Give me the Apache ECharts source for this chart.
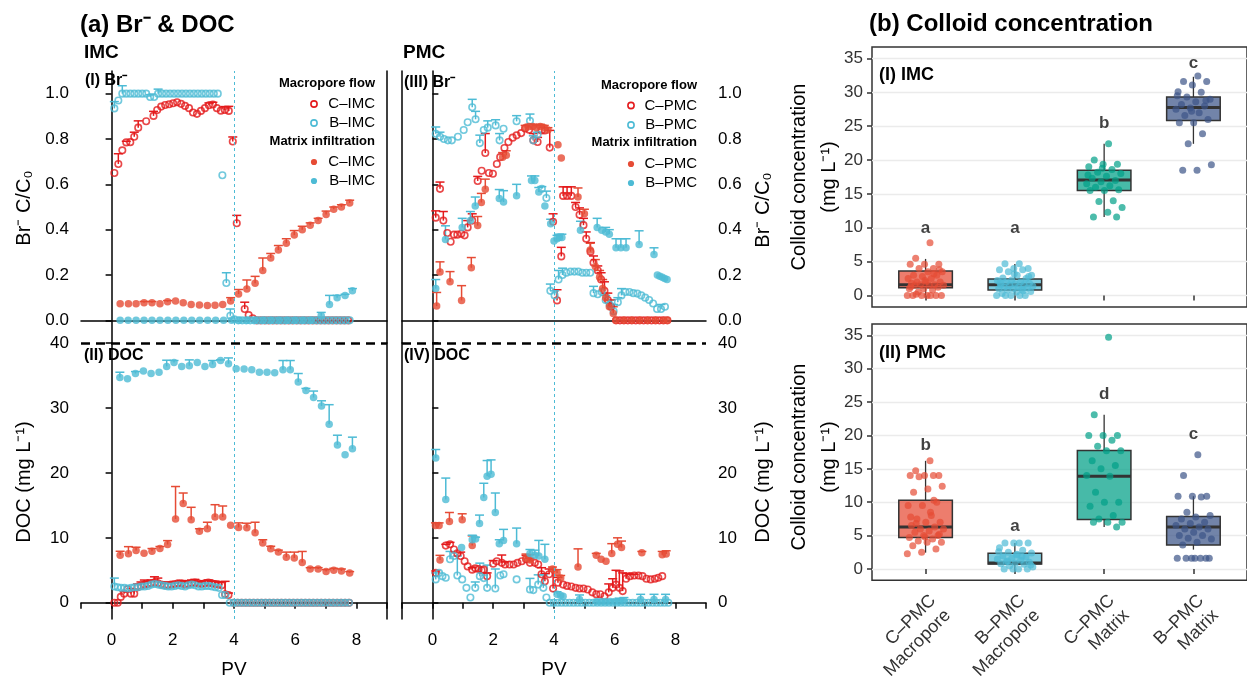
<!DOCTYPE html>
<html><head><meta charset="utf-8">
<script src="https://cdn.jsdelivr.net/npm/echarts@6/dist/echarts.min.js"></script>
<style>html,body{margin:0;padding:0;background:#fff}#c{width:1247px;height:683px}</style>
</head><body><div id="c"></div><script>
// ---------- tick labels / categories ----------
const pvTicks = [-1,0,1,2,3,4,5,6,7,8,9];
const pvLabels = [0,2,4,6,8];
const brTicks = [0,0.2,0.4,0.6,0.8,1.0];
const docTicks = [0,10,20,30,40];
const colloidTicks = [0,5,10,15,20,25,30,35];
const colloidGroups = ['C–PMC\nMacropore','B–PMC\nMacropore','C–PMC\nMatrix','B–PMC\nMatrix'];

// ---------- panel (a) data: [PV, value, upper error] ----------
const cImcMacroBr = [[0.09,0.65,0],[0.22,0.69,0.045],[0.35,0.75,0],[0.48,0.785,0.005],[0.61,0.786,0],[0.74,0.81,0.02],[0.87,0.85,0.03],[1.13,0.878,0],[1.37,0.902,0.02],[1.49,0.928,0],[1.62,0.943,0],[1.75,0.95,0],[1.88,0.953,0],[2.01,0.958,0],[2.14,0.962,0],[2.27,0.955,0],[2.40,0.946,0],[2.53,0.936,0],[2.66,0.917,0],[2.79,0.911,0],[2.92,0.924,0],[3.05,0.936,0],[3.18,0.949,0.01],[3.31,0.952,0.01],[3.44,0.936,0],[3.57,0.925,0],[3.70,0.928,0.015],[3.83,0.924,0.02],[3.96,0.789,0.02],[4.09,0.428,0.035],[4.35,0.05,0.03],[4.48,0.023,0],[4.61,0.009,0],[4.74,0,0],[4.87,0,0],[5.00,0,0],[5.13,0,0],[5.26,0,0],[5.39,0,0],[5.52,0,0],[5.65,0,0],[5.78,0,0],[5.91,0,0],[6.04,0,0],[6.17,0,0],[6.30,0,0],[6.43,0,0],[6.56,0,0],[6.69,0,0],[6.82,0,0],[6.95,0,0],[7.08,0,0],[7.21,0,0],[7.34,0,0],[7.47,0,0],[7.60,0,0],[7.73,0,0]];
const bImcMacroBr = [[0.09,0.935,0.03],[0.22,0.97,0],[0.35,1,0.035],[0.48,1,0],[0.61,1,0],[0.74,1,0],[0.87,1,0],[1.00,1,0],[1.13,1,0],[1.26,0.985,0.01],[1.39,0.985,0],[1.52,1,0.02],[1.65,1,0],[1.78,1,0],[1.91,1,0],[2.04,1,0],[2.17,1,0],[2.30,1,0],[2.43,1,0],[2.56,1,0],[2.69,1,0],[2.82,1,0],[2.95,1,0],[3.08,1,0],[3.21,1,0],[3.34,1,0],[3.47,1,0],[3.62,0.64,0],[3.75,0.165,0.045],[3.88,0.02,0.03],[4.01,0.005,0],[4.14,0,0],[4.27,0,0],[4.40,0,0],[4.53,0,0],[4.66,0,0],[4.79,0,0],[4.92,0,0],[5.05,0,0],[5.18,0,0],[5.31,0,0],[5.44,0,0],[5.57,0,0],[5.70,0,0],[5.83,0,0],[5.96,0,0],[6.09,0,0],[6.22,0,0],[6.35,0,0],[6.48,0,0],[6.61,0,0],[6.74,0,0],[6.87,0,0],[7.00,0,0],[7.13,0,0],[7.26,0,0],[7.39,0,0],[7.52,0,0],[7.65,0,0],[7.78,0,0]];
const cImcMatrixBr = [[0.28,0.073,0],[0.55,0.073,0],[0.80,0.073,0],[1.06,0.078,0.005],[1.32,0.078,0.005],[1.58,0.073,0],[1.83,0.082,0.005],[2.09,0.085,0],[2.34,0.078,0],[2.60,0.070,0],[2.87,0.068,0],[3.13,0.065,0],[3.38,0.067,0],[3.63,0.070,0],[3.89,0.085,0.015],[4.15,0.116,0.02],[4.42,0.138,0.04],[4.69,0.164,0.03],[4.94,0.22,0.055],[5.20,0.275,0.02],[5.45,0.31,0.02],[5.71,0.34,0.02],[5.97,0.376,0.02],[6.23,0.40,0.015],[6.49,0.42,0.01],[6.75,0.44,0.01],[7.01,0.467,0.015],[7.26,0.49,0.01],[7.51,0.50,0.01],[7.78,0.518,0.012]];
const bImcMatrixBr = [[0.28,0,0],[0.54,0,0],[0.80,0,0],[1.06,0,0],[1.32,0,0],[1.58,0,0],[1.84,0,0],[2.10,0,0],[2.36,0,0],[2.62,0,0],[2.88,0,0],[3.14,0,0],[3.40,0,0],[3.66,0,0],[3.92,0,0],[4.18,0,0],[4.44,0,0],[4.70,0,0],[4.96,0,0],[5.22,0,0],[5.48,0,0],[5.74,0,0],[6.00,0,0],[6.26,0,0],[6.52,0,0],[6.85,0.02,0.015],[7.12,0.07,0.04],[7.37,0.10,0.01],[7.63,0.11,0.005],[7.87,0.13,0.01]];

const cImcMacroDoc = [[0.09,0,0],[0.20,0,0],[0.30,0.9,0],[0.41,1.4,0.3],[0.52,2.1,0],[0.63,1.4,0.8],[0.74,1.4,0.7],[0.85,2.4,0.5],[0.96,2.6,0.6],[1.07,2.8,0.7],[1.18,2.9,0.4],[1.29,3.0,0.5],[1.40,3.1,0.9],[1.51,3.0,0.8],[1.62,2.8,0.4],[1.73,2.7,0.3],[1.84,2.7,0.5],[1.95,2.8,0.3],[2.06,2.9,0.2],[2.17,3.0,0.2],[2.28,3.0,0.4],[2.39,2.8,0.6],[2.50,2.9,0.5],[2.61,3.0,0.5],[2.72,3.1,0.5],[2.83,3.0,0.3],[2.94,2.9,0.3],[3.05,3.0,0.4],[3.16,3.1,0.4],[3.27,3.0,0.3],[3.38,2.9,0.4],[3.49,2.8,0.4],[3.60,2.7,0.5],[3.71,1.3,2.0],[3.82,1.2,0.3],[3.99,0,0],[4.12,0,0],[4.25,0,0],[4.38,0,0],[4.51,0,0],[4.64,0,0],[4.77,0,0],[4.90,0,0],[5.03,0,0],[5.16,0,0],[5.29,0,0],[5.42,0,0],[5.55,0,0],[5.68,0,0],[5.81,0,0],[5.94,0,0],[6.07,0,0],[6.20,0,0],[6.33,0,0],[6.46,0,0],[6.59,0,0],[6.72,0,0],[6.85,0,0],[6.98,0,0],[7.11,0,0],[7.24,0,0],[7.37,0,0],[7.50,0,0],[7.63,0,0],[7.76,0,0]];
const bImcMacroDoc = [[0.09,2.5,1.3],[0.20,2.4,0],[0.31,2.3,0],[0.42,2.3,0],[0.53,2.2,0],[0.64,2.3,0],[0.75,2.4,0],[0.86,2.4,0],[0.97,2.5,0],[1.08,2.5,0],[1.19,2.6,0],[1.30,2.8,0],[1.41,2.9,0],[1.52,2.8,0],[1.63,2.7,0],[1.74,2.6,0],[1.85,2.5,0],[1.96,2.5,0],[2.07,2.6,0],[2.18,2.7,0],[2.29,2.6,0],[2.40,2.5,0],[2.51,2.7,0],[2.62,2.8,0],[2.73,2.7,0],[2.84,2.5,0],[2.95,2.5,0],[3.06,2.6,0],[3.17,2.6,0],[3.28,2.5,0],[3.39,2.4,0],[3.50,2.3,0],[3.61,1.2,0],[3.72,1.2,0],[3.86,0,0],[3.99,0,0],[4.12,0,0],[4.25,0,0],[4.38,0,0],[4.51,0,0],[4.64,0,0],[4.77,0,0],[4.90,0,0],[5.03,0,0],[5.16,0,0],[5.29,0,0],[5.42,0,0],[5.55,0,0],[5.68,0,0],[5.81,0,0],[5.94,0,0],[6.07,0,0],[6.20,0,0],[6.33,0,0],[6.46,0,0],[6.59,0,0],[6.72,0,0],[6.85,0,0],[6.98,0,0],[7.11,0,0],[7.24,0,0],[7.37,0,0],[7.50,0,0],[7.63,0,0],[7.76,0,0]];
const cImcMatrixDoc = [[0.28,7.33,0.6],[0.55,7.54,1.1],[0.80,8.05,0.5],[1.06,7.64,0],[1.32,7.95,0.4],[1.58,8.36,0.3],[1.83,8.97,0.6],[2.09,12.9,5.0],[2.34,15.3,1.6],[2.60,12.8,1.9],[2.87,11.0,0.4],[3.13,11.4,1.0],[3.38,13.2,1.9],[3.63,13.2,1.7],[3.89,11.95,0],[4.15,11.6,0.7],[4.42,11.55,0.7],[4.69,10.8,1.6],[4.94,9.2,0.5],[5.20,8.3,0.4],[5.45,7.8,0.3],[5.71,7.0,0.8],[5.97,6.9,0.9],[6.23,6.2,1.7],[6.49,5.2,0.2],[6.75,5.2,0.2],[7.01,4.8,0.3],[7.26,5.0,0.3],[7.51,4.9,0.3],[7.78,4.6,0.2]];
const bImcMatrixDoc = [[0.27,34.7,0.8],[0.52,34.5,0],[0.78,35.3,0.3],[1.04,35.7,0],[1.29,35.3,0],[1.55,35.5,0],[1.80,36.4,0.95],[2.04,37.0,0.3],[2.29,36.4,0],[2.54,36.5,0.9],[2.80,37.0,0],[3.05,36.4,0],[3.30,36.7,0.6],[3.56,37.3,0.1],[3.82,36.8,0.9],[4.07,36.05,0],[4.33,36.0,0],[4.58,35.9,0],[4.83,35.5,0],[5.08,35.5,0],[5.33,35.4,0],[5.60,35.9,1.4],[5.84,35.9,1.4],[6.10,34.0,1.3],[6.35,32.7,0.3],[6.60,31.6,1.0],[6.86,30.3,0.8],[7.11,27.5,3.0],[7.38,24.3,1.5],[7.63,22.8,0],[7.87,23.7,1.8]];

const cPmcMacroBr = [[0.11,0.453,0.03],[0.25,0.58,0.03],[0.36,0.44,0.04],[0.49,0.385,0],[0.60,0.347,0],[0.71,0.378,0],[0.82,0.378,0],[0.95,0.382,0],[1.06,0.375,0],[1.16,0.41,0.03],[1.31,0.44,0.03],[1.49,0.615,0.02],[1.62,0.66,0],[1.74,0.738,0.086],[1.86,0.65,0],[1.99,0.647,0],[2.12,0.69,0],[2.23,0.72,0],[2.37,0.76,0],[2.50,0.787,0],[2.64,0.806,0],[2.77,0.816,0],[2.92,0.826,0],[3.05,0.846,0],[3.18,0.841,0],[3.32,0.794,0.03],[3.46,0.787,0.02],[3.59,0.838,0],[3.70,0.838,0],[3.86,0.762,0.076],[3.97,0.435,0.035],[4.10,0.088,0.047],[4.24,0.282,0.04],[4.30,0.549,0.04],[4.43,0.549,0.04],[4.57,0.549,0.04],[4.71,0.50,0.02],[4.84,0.466,0.03],[4.97,0.42,0.03],[5.06,0.36,0.03],[5.20,0.303,0.04],[5.30,0.254,0.03],[5.44,0.22,0.02],[5.55,0.18,0.03],[5.66,0.13,0.04],[5.77,0.09,0.03],[5.88,0.06,0.03],[6.04,0,0],[6.17,0,0],[6.30,0,0],[6.43,0,0],[6.56,0,0],[6.69,0,0],[6.82,0,0],[6.95,0,0],[7.08,0,0],[7.21,0,0],[7.34,0,0],[7.47,0,0],[7.60,0,0],[7.73,0,0]];
const bPmcMacroBr = [[0.11,0.823,0.03],[0.25,0.81,0.02],[0.38,0.80,0],[0.51,0.794,0],[0.64,0.794,0],[0.84,0.81,0],[1.03,0.84,0],[1.16,0.874,0],[1.31,0.94,0.035],[1.42,0.887,0.035],[1.56,0.782,0.035],[1.69,0.84,0],[1.82,0.85,0.03],[2.08,0.86,0.025],[2.21,0.794,0.03],[2.34,0.845,0],[2.77,0.878,0.025],[3.21,0.88,0.03],[3.32,0.794,0.02],[3.46,0.82,0.01],[3.60,0.58,0.01],[3.75,0.54,0.03],[3.88,0.13,0.03],[4.02,0.11,0.02],[4.15,0.18,0.04],[4.28,0.20,0.03],[4.41,0.21,0],[4.54,0.215,0],[4.67,0.215,0],[4.80,0.215,0],[4.93,0.21,0],[5.06,0.21,0],[5.19,0.21,0],[5.30,0.12,0.03],[5.44,0.115,0],[5.57,0.125,0],[5.70,0.09,0.02],[5.83,0.07,0.02],[5.96,0.04,0.03],[6.10,0.08,0.02],[6.22,0.11,0.03],[6.35,0.125,0],[6.48,0.125,0],[6.61,0.12,0],[6.74,0.118,0],[6.87,0.11,0],[7.00,0.10,0],[7.13,0.09,0],[7.26,0.074,0],[7.39,0.05,0],[7.52,0.05,0.02],[7.65,0.06,0]];
const cPmcMatrixBr = [[0.14,0.063,0.06],[0.25,0.213,0.045],[0.58,0.17,0.045],[0.96,0.088,0.065],[1.28,0.232,0.045],[1.49,0.418,0.04],[1.61,0.52,0.04],[1.74,0.578,0.045],[2.31,0.72,0.02],[2.43,0.728,0.02],[3.05,0.85,0.01],[3.18,0.855,0.01],[3.30,0.855,0.01],[3.42,0.85,0.01],[3.55,0.855,0.01],[3.68,0.85,0.01],[3.80,0.84,0.01],[4.13,0.775,0],[4.24,0.716,0],[4.79,0.544,0.04],[5.00,0.47,0.02],[5.19,0.31,0.03],[5.36,0.238,0.03],[5.50,0.19,0.03],[5.60,0.14,0.04],[5.70,0.10,0.02],[5.82,0.06,0.03],[5.95,0.03,0.03],[6.04,0,0],[6.30,0,0],[6.56,0,0],[6.82,0,0],[7.08,0,0],[7.34,0,0],[7.60,0,0],[7.73,0,0]];
const bPmcMatrixBr = [[0.11,0.14,0.04],[0.43,0.357,0.06],[0.98,0.41,0.04],[1.25,0.44,0.04],[1.41,0.504,0.04],[2.20,0.537,0.04],[2.34,0.522,0.05],[2.77,0.55,0.05],[3.26,0.617,0.02],[3.37,0.617,0.02],[3.50,0.566,0.02],[3.70,0.504,0],[3.89,0.426,0.02],[4.00,0.35,0],[4.10,0.36,0.015],[4.18,0.365,0.015],[4.26,0.365,0.015],[4.87,0.397,0.04],[5.42,0.41,0.04],[5.57,0.397,0],[5.70,0.39,0.02],[5.82,0.38,0.02],[6.04,0.32,0.04],[6.20,0.32,0.04],[6.37,0.32,0.04],[6.80,0.335,0.06],[7.29,0.29,0.03],[7.40,0.20,0],[7.48,0.195,0],[7.56,0.19,0],[7.64,0.185,0],[7.72,0.18,0]];

const cPmcMacroDoc = [[0.11,4.6,0.3],[0.44,8.8,0.2],[0.58,9.0,0.3],[0.71,8.2,0],[0.82,7.6,0],[0.93,7.2,0.6],[1.06,6.4,0],[1.16,5.6,0],[1.31,5.1,0.3],[1.41,5.3,0],[1.52,5.2,0],[1.62,5.0,0],[1.69,5.1,0],[1.80,4.1,0.5],[2.00,6.0,0.5],[2.12,6.4,0],[2.28,6.15,1.2],[2.39,5.9,0.4],[2.54,5.9,0],[2.67,5.9,0],[2.80,6.15,0],[2.94,6.4,0],[3.08,6.7,0.6],[3.21,6.15,0.7],[3.37,6.15,0],[3.48,5.9,0],[3.59,4.4,1.0],[3.70,3.3,1.2],[3.84,4.4,0.8],[3.97,2.2,2.9],[4.13,3.1,0.8],[4.30,2.8,0],[4.43,2.6,0],[4.57,2.5,0],[4.71,2.3,0],[4.84,2.2,0],[4.97,2.2,0],[5.11,2.05,0],[5.26,1.6,0],[5.39,1.3,0],[5.52,1.3,0],[5.66,1.0,0],[5.80,1.6,1.3],[5.93,2.3,1.4],[6.04,2.8,2.2],[6.15,2.3,2.6],[6.26,1.8,2.8],[6.37,3.7,0.8],[6.50,4.1,0.3],[6.64,4.2,0.2],[6.78,4.2,0],[6.91,4.1,0],[7.04,3.7,0],[7.18,3.6,0],[7.32,3.7,0],[7.43,3.85,0],[7.56,4.1,0]];
const bPmcMacroDoc = [[0.11,3.6,1.0],[0.22,4.6,0],[0.33,4.1,0],[0.44,3.85,0],[0.58,6.7,1.2],[0.71,7.2,0],[0.82,4.2,3.0],[0.98,3.6,0],[1.12,2.3,0],[1.25,0.8,0],[1.41,2.3,0.9],[1.56,4.1,2.0],[1.69,3.8,0],[1.80,2.3,3.5],[2.07,2.2,3.0],[2.23,4.2,0],[2.34,4.4,0],[2.77,3.6,0],[3.21,2.05,1.7],[3.32,1.95,0],[3.48,2.8,1.5],[3.65,2.3,2.0],[3.75,0.8,0],[3.86,0,0],[3.99,0,0],[4.12,0,0],[4.25,0,0],[4.38,0,0],[4.51,0,0],[4.64,0,0],[4.77,0,0],[4.90,0,0],[5.03,0,0],[5.16,0,0],[5.29,0,0],[5.42,0,0],[5.55,0,0],[5.68,0,0],[5.81,0,0],[5.94,0,0],[6.07,0,0],[6.20,0,0],[6.33,0,0],[6.46,0,0],[6.59,0,0],[6.72,0,0],[6.85,0,0],[6.98,0,0],[7.11,0,0],[7.24,0,0],[7.37,0,0],[7.50,0,0],[7.63,0,0],[7.76,0,0]];
const cPmcMatrixDoc = [[0.10,11.9,0.4],[0.22,11.9,0.4],[0.25,6.6,0.7],[0.56,12.5,1.4],[0.98,12.8,0.9],[1.31,8.8,1.5],[3.08,6.9,0.6],[3.21,6.6,0.8],[3.95,5.2,0.3],[4.10,4.6,0.5],[4.22,3.8,0.4],[4.79,5.5,2.8],[5.39,7.3,0.3],[5.55,6.7,0],[5.71,6.4,0],[5.90,7.6,1.5],[6.09,9.0,1.0],[6.22,8.5,1.0],[6.89,7.7,0.2],[7.56,7.4,0.5],[7.69,7.5,0.5]];
const bPmcMatrixDoc = [[0.11,22.3,1.3],[0.44,15.9,3.3],[0.96,8.5,0],[1.31,9.7,0.7],[1.42,9.8,0.3],[1.55,12.2,1.3],[1.69,16.2,2.2],[1.80,19.5,2.4],[1.93,19.8,2.2],[2.07,13.9,3.0],[2.20,9.1,0.6],[2.34,9.6,1.7],[2.77,9.1,2.4],[3.21,7.6,0.6],[3.37,7.3,0.8],[3.50,7.2,2.4],[3.70,6.7,2.3],[4.10,1.3,0.4],[4.22,1.1,0],[4.30,1.0,0],[4.84,0.5,0.7],[5.40,0.2,0],[5.55,0.2,0],[5.70,0.2,0],[5.85,0.2,0],[6.00,0.2,0],[6.15,0.2,0.5],[6.30,0.3,0.5],[6.85,0.5,0.8],[7.29,0.5,0.8],[7.67,0.5,0.8]];

// ---------- panel (b) data ----------
const imcBoxes = [[0,1.13,1.6,3.6,5.4],[0,0.8,1.6,2.45,4.65],[11.6,15.5,17.05,18.5,22.4],[22.4,25.85,27.76,29.3,32.3]];
const pmcBoxes = [[2.45,4.7,6.3,10.3,16.2],[0,0.75,0.9,2.35,3.9],[6.3,7.4,13.9,17.75,23.1],[2.9,3.6,6.3,7.85,10.9]];
const imcCMacro = [7.8,5.5,4.6,4.6,4.6,4.0,4.0,3.5,3.5,3.0,3.0,2.8,2.5,2.5,2.0,2.0,2.0,1.8,1.6,1.6,1.5,1.5,1.5,1.2,1.0,1.0,0.8,0.5,0,0,0,0,0,0,0,0.2,3.8,2.2,1.3,3.2];
const imcBMacro = [4.7,4.7,4.0,4.0,3.8,3.8,3.5,3.0,3.0,2.6,2.5,2.3,2.2,2.0,2.0,1.8,1.7,1.6,1.6,1.5,1.4,1.3,1.2,1.1,1.0,1.0,0.9,0.8,0.6,0.5,0.3,0,0,0,0,0,2.8,3.2,1.9,0.7];
const imcCMatrix = [22.4,20.0,19.4,19.4,19.0,18.6,18.2,18.0,17.6,17.3,17.0,16.8,16.5,16.2,16.0,15.6,15.5,15.5,14.0,13.9,13.0,12.3,11.6,11.6,18.8,17.8];
const imcBMatrix = [32.4,31.6,31.6,31.1,30.1,30.0,29.3,29.0,28.6,28.2,28.0,27.7,27.5,27.0,26.6,26.0,25.5,25.5,23.9,22.4,19.3,18.5,18.5,28.8,27.2,29.5];
const pmcCMacro = [16.2,14.7,14.0,14.0,14.0,14.0,13.8,12.4,12.0,11.5,10.0,9.5,9.5,8.0,7.5,7.0,7.0,6.5,6.3,6.0,6.0,5.7,5.5,5.0,5.0,4.7,4.5,4.2,4.0,4.0,3.5,3.0,2.5,2.3,8.5,6.8,5.2,4.8,7.8,10.3];
const pmcBMacro = [3.9,3.9,3.9,3.9,3.2,2.8,2.5,2.4,2.2,2.0,1.8,1.6,1.5,1.3,1.1,1.0,0.9,0.8,0.7,0.5,0.3,0,0,0,0,2.6,1.9,1.2,0.6,2.1];
const pmcCMatrix = [34.7,23.1,20.0,20.0,20.0,19.3,18.4,17.7,17.7,16.2,15.5,15.0,14.0,13.9,11.5,10.0,10.0,9.4,8.0,7.5,7.0,7.0,7.0,6.3];
const pmcBMatrix = [17.1,14.0,10.9,10.9,10.9,10.8,8.5,8.0,7.8,7.5,7.0,6.8,6.5,6.3,6.0,6.0,5.5,5.0,5.0,4.6,4.5,4.0,3.6,1.6,1.6,1.6,1.6,1.6,1.6,1.6];
const imcLetters = ['a','a','b','c'];
const imcLetterY = [9.9,9.9,25.5,34.3];
const pmcLetters = ['b','a','d','c'];
const pmcLetterY = [18.6,6.4,26.2,20.2];

// ---------- styling ----------
const FONT = '"Liberation Sans", Arial, Helvetica, sans-serif';
const RED_OPEN = '#E41A1C', RED = '#E64B35', CYAN = '#4DBBD5', TEAL = '#00A087', NAVY = '#3C5488';
const BOX_COLORS = [RED, CYAN, TEAL, NAVY];
function rgba(hex, a){const n=parseInt(hex.slice(1),16);return `rgba(${n>>16&255},${n>>8&255},${n&255},${a})`;}

function errSeries(data, color, xi, yi) {
  return {
    type: 'custom', xAxisIndex: xi, yAxisIndex: yi, z: 2, silent: true,
    data: data.filter(d => d[2] > 0), encode: { x: 0, y: 1 },
    renderItem: function (params, api) {
      const x = api.value(0), y = api.value(1), e = api.value(2);
      const p0 = api.coord([x, y]), p1 = api.coord([x, y + e]);
      return { type: 'group', children: [
        { type: 'line', shape: { x1: p0[0], y1: p0[1], x2: p1[0], y2: p1[1] }, style: { stroke: color, lineWidth: 1.5 } },
        { type: 'line', shape: { x1: p1[0] - 4.5, y1: p1[1], x2: p1[0] + 4.5, y2: p1[1] }, style: { stroke: color, lineWidth: 1.5 } }
      ]};
    }
  };
}
function ptSeries(data, color, open, xi, yi, extra) {
  return Object.assign({
    type: 'scatter', xAxisIndex: xi, yAxisIndex: yi, z: 3, silent: true,
    data: data.map(d => [d[0], d[1]]),
    symbol: 'circle', symbolSize: open ? 6.5 : 7.5,
    itemStyle: open ? { color: 'rgba(255,255,255,0)', borderColor: color, borderWidth: 1.6 } : { color: color }
  }, extra || {});
}
function vLine() { return { xAxis: 4, lineStyle: { color: CYAN, type: [3, 3], width: 1 } }; }
function panelSeries(cMac, bMac, cMat, bMat, xi, yi, isDoc) {
  const ml = { silent: true, symbol: ['none','none'], animation: false, label: { show: false },
    data: isDoc ? [vLine(), { yAxis: 40, lineStyle: { color: '#000', type: [9, 6], width: 2.5 } }] : [vLine()] };
  return [
    errSeries(cMac, RED_OPEN, xi, yi), ptSeries(cMac, RED_OPEN, true, xi, yi, { markLine: ml }),
    errSeries(bMac, CYAN, xi, yi), ptSeries(bMac, CYAN, true, xi, yi),
    errSeries(cMat, RED, xi, yi), ptSeries(cMat, RED, false, xi, yi),
    errSeries(bMat, CYAN, xi, yi), ptSeries(bMat, CYAN, false, xi, yi)
  ];
}
function jit(i) { return (((i + 1) * 0.6180339887) % 1 - 0.5) * 0.42; }
function boxSeries(boxes, xi, yi) {
  return {
    type: 'custom', xAxisIndex: xi, yAxisIndex: yi, z: 2, silent: true,
    data: boxes.map((b, i) => [i + 1].concat(b)), encode: { x: 0, y: [1, 5] },
    renderItem: function (params, api) {
      const c = api.value(0), lo = api.value(1), q1 = api.value(2), md = api.value(3), q3 = api.value(4), hi = api.value(5);
      const hw = 0.3, col = BOX_COLORS[params.dataIndex];
      const a = api.coord([c - hw, q3]), b = api.coord([c + hw, q1]);
      const pLo = api.coord([c, lo]), pHi = api.coord([c, hi]), pQ1 = api.coord([c, q1]), pQ3 = api.coord([c, q3]);
      const m1 = api.coord([c - hw, md]), m2 = api.coord([c + hw, md]);
      const ws = { stroke: '#333', lineWidth: 1.3 };
      return { type: 'group', children: [
        { type: 'line', shape: { x1: pHi[0], y1: pHi[1], x2: pQ3[0], y2: pQ3[1] }, style: ws },
        { type: 'line', shape: { x1: pLo[0], y1: pLo[1], x2: pQ1[0], y2: pQ1[1] }, style: ws },
        { type: 'rect', shape: { x: a[0], y: a[1], width: b[0] - a[0], height: b[1] - a[1] }, style: { fill: rgba(col, 0.72), stroke: '#333', lineWidth: 1.5 } },
        { type: 'line', shape: { x1: m1[0], y1: m1[1], x2: m2[0], y2: m2[1] }, style: { stroke: '#333', lineWidth: 3 } }
      ]};
    }
  };
}
function jitterSeries(vals, cat, color, xi, yi) {
  return { type: 'scatter', xAxisIndex: xi, yAxisIndex: yi, z: 4, silent: true, symbolSize: 7,
    data: vals.map((v, i) => [cat + jit(i), v]), itemStyle: { color: color, opacity: 0.7 } };
}
function letterSeries(letters, ys, xi, yi) {
  return { type: 'scatter', xAxisIndex: xi, yAxisIndex: yi, z: 5, silent: true, symbolSize: 0,
    data: letters.map((l, i) => [i + 1, ys[i], l]),
    label: { show: true, position: 'inside', formatter: p => p.data[2], fontWeight: 'bold', fontSize: 17, color: '#111', fontFamily: FONT } };
}

// ---------- axes ----------
const axLine = { show: true, lineStyle: { color: '#000', width: 1.5 } };
const tickSty = { color: '#000', width: 1.5 };
const lblA = { fontSize: 17, color: '#000', fontFamily: FONT };
function frameX(g) { return { gridIndex: g, type: 'value', position: 'top', min: -1, max: 9, axisLine: axLine, axisTick: { show: false }, axisLabel: { show: false }, splitLine: { show: false } }; }
function pvX(g) { return { gridIndex: g, type: 'value', position: 'bottom', min: -1, max: 9, axisLine: axLine,
  axisTick: { show: true, length: 6, lineStyle: tickSty, customValues: pvTicks },
  axisLabel: Object.assign({ customValues: pvLabels, margin: 13 }, lblA), splitLine: { show: false },
  name: 'PV', nameLocation: 'middle', nameGap: 41, nameTextStyle: { fontSize: 19, color: '#000', fontFamily: FONT } }; }
function valY(g, pos, min, max, ticks, fmt) { return { gridIndex: g, type: 'value', position: pos, min: min, max: max, axisLine: axLine,
  axisTick: { show: true, length: 6, lineStyle: tickSty, customValues: ticks },
  axisLabel: Object.assign({ customValues: ticks, margin: 12, formatter: fmt }, lblA), splitLine: { show: false } }; }
function lineY(g, pos, min, max) { return { gridIndex: g, type: 'value', position: pos, min: min, max: max, axisLine: axLine, axisTick: { show: false }, axisLabel: { show: false }, splitLine: { show: false } }; }
function colX(g, labels) { return { gridIndex: g, type: 'value', min: 0.4, max: 4.6, axisLine: { show: false },
  axisTick: { show: true, length: 5, lineStyle: { color: '#333', width: 1.5 }, customValues: [1,2,3,4] },
  axisLabel: labels ? { customValues: [1,2,3,4], formatter: v => colloidGroups[Math.round(v) - 1], rotate: 45, verticalAlign: 'top', fontSize: 18, color: '#333', margin: 10, lineHeight: 21, fontFamily: FONT } : { show: false },
  splitLine: { show: false } }; }
function colY(g) { return { gridIndex: g, type: 'value', min: -1.7, max: 36.7, axisLine: { show: false },
  axisTick: { show: true, length: 5, lineStyle: { color: '#333', width: 1.5 }, customValues: colloidTicks },
  axisLabel: { customValues: colloidTicks, fontSize: 17, color: '#333', margin: 9, fontFamily: FONT },
  splitLine: { show: true, lineStyle: { color: '#EBEBEB', width: 1.3 } } }; }

const f1 = v => v.toFixed(1);
const f0 = v => String(Math.round(v));

// ---------- graphics (titles, panel labels, axis titles, legends) ----------
function T(x, y, text, font, extra) { return Object.assign({ type: 'text', x: x, y: y, silent: true, z: 100,
  style: { text: text, font: font, fill: '#000', align: 'left', verticalAlign: 'middle' } }, extra || {}); }
function R(x, y, text, size, lh) { return { type: 'text', x: x, y: y, rotation: Math.PI / 2, silent: true, z: 100,
  style: { text: text, font: `${size}px ${FONT}`, fill: '#000', align: 'center', verticalAlign: 'middle', lineHeight: lh || size } }; }
function legendBlock(xr, cx, ys, tag) {
  const items = [];
  const hdr = (y, t) => ({ type: 'text', x: xr, y: y, silent: true, z: 100, style: { text: t, font: `bold 13px ${FONT}`, fill: '#000', align: 'right', verticalAlign: 'middle' } });
  const itm = (y, t) => ({ type: 'text', x: xr, y: y, silent: true, z: 100, style: { text: t, font: `15px ${FONT}`, fill: '#000', align: 'right', verticalAlign: 'middle' } });
  const cir = (y, col, open) => ({ type: 'circle', silent: true, z: 100, shape: { cx: cx, cy: y, r: 3.1 },
    style: open ? { fill: 'none', stroke: col, lineWidth: 1.6 } : { fill: col } });
  items.push(hdr(ys[0], 'Macropore flow'));
  items.push(cir(ys[1], RED_OPEN, true), itm(ys[1], 'C–' + tag));
  items.push(cir(ys[2], CYAN, true), itm(ys[2], 'B–' + tag));
  items.push(hdr(ys[3], 'Matrix infiltration'));
  items.push(cir(ys[4], RED, false), itm(ys[4], 'C–' + tag));
  items.push(cir(ys[5], CYAN, false), itm(ys[5], 'B–' + tag));
  return items;
}
const B = s => `bold ${s}px ${FONT}`;
const graphics = [
  T(80, 25, '(a) Br⁻ & DOC', B(24)),
  T(84, 53, 'IMC', B(19)),
  T(403, 53, 'PMC', B(19)),
  T(869, 24, '(b) Colloid concentration', B(24)),
  T(85, 81, '(I) Br⁻', B(16)),
  T(84, 356, '(II) DOC', B(16)),
  T(404, 83, '(III) Br⁻', B(16)),
  T(404, 356, '(IV) DOC', B(16)),
  T(879, 75, '(I) IMC', B(18)),
  T(879, 353, '(II) PMC', B(18)),
  R(24, 208, 'Br⁻ C/C₀', 20),
  R(24, 482, 'DOC (mg L⁻¹)', 20),
  R(763, 210, 'Br⁻ C/C₀', 20),
  R(763, 482, 'DOC (mg L⁻¹)', 20),
  R(814, 177, 'Colloid concentration\n(mg L⁻¹)', 20, 30),
  R(814, 457, 'Colloid concentration\n(mg L⁻¹)', 20, 30)
].concat(legendBlock(375, 314, [83, 104, 123, 141, 162, 181], 'IMC'))
 .concat(legendBlock(697, 631, [85, 105.5, 125, 142.5, 164, 183], 'PMC'));

const option = {
  animation: false,
  backgroundColor: '#fff',
  textStyle: { fontFamily: FONT },
  grid: [
    { left: 81, top: 71, width: 306, height: 272 },
    { left: 81, top: 343, width: 306, height: 276 },
    { left: 402, top: 71, width: 304, height: 272 },
    { left: 402, top: 343, width: 304, height: 276 },
    { left: 872, top: 47, width: 385, height: 260, show: true, borderColor: '#333', borderWidth: 1.5, backgroundColor: 'transparent' },
    { left: 872, top: 324, width: 385, height: 260, show: true, borderColor: '#333', borderWidth: 1.5, backgroundColor: 'transparent' }
  ],
  xAxis: [frameX(0), pvX(1), frameX(2), pvX(3), colX(4, false), colX(5, true)],
  yAxis: [
    valY(0, 'left', -0.1, 1.1, brTicks, f1), lineY(0, 'right', -0.1, 1.1),
    valY(1, 'left', -2.5, 40, docTicks, f0), lineY(1, 'right', -2.5, 40),
    valY(2, 'right', -0.1, 1.1, brTicks, f1), lineY(2, 'left', -0.1, 1.1),
    valY(3, 'right', -2.5, 40, docTicks, f0), lineY(3, 'left', -2.5, 40),
    colY(4), colY(5)
  ],
  graphic: graphics,
  series: [].concat(
    panelSeries(cImcMacroBr, bImcMacroBr, cImcMatrixBr, bImcMatrixBr, 0, 0, false),
    panelSeries(cImcMacroDoc, bImcMacroDoc, cImcMatrixDoc, bImcMatrixDoc, 1, 2, true),
    panelSeries(cPmcMacroBr, bPmcMacroBr, cPmcMatrixBr, bPmcMatrixBr, 2, 4, false),
    panelSeries(cPmcMacroDoc, bPmcMacroDoc, cPmcMatrixDoc, bPmcMatrixDoc, 3, 6, true),
    [boxSeries(imcBoxes, 4, 8),
     jitterSeries(imcCMacro, 1, RED, 4, 8), jitterSeries(imcBMacro, 2, CYAN, 4, 8),
     jitterSeries(imcCMatrix, 3, TEAL, 4, 8), jitterSeries(imcBMatrix, 4, NAVY, 4, 8),
     letterSeries(imcLetters, imcLetterY, 4, 8),
     boxSeries(pmcBoxes, 5, 9),
     jitterSeries(pmcCMacro, 1, RED, 5, 9), jitterSeries(pmcBMacro, 2, CYAN, 5, 9),
     jitterSeries(pmcCMatrix, 3, TEAL, 5, 9), jitterSeries(pmcBMatrix, 4, NAVY, 5, 9),
     letterSeries(pmcLetters, pmcLetterY, 5, 9)]
  )
};
const chart = echarts.init(document.getElementById('c'), null, { renderer: 'canvas' });
chart.setOption(option);
</script></body></html>
